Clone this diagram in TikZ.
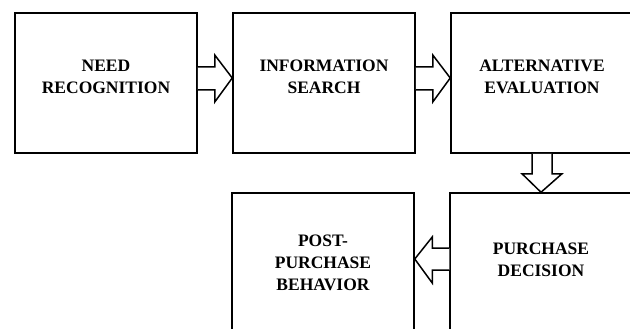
\documentclass[tikz,border=0pt]{standalone}
\usepackage{fontspec}
\setmainfont{Liberation Serif}
\usepackage{tikz}
\usetikzlibrary{calc}

\begin{document}
\begin{tikzpicture}[x=1pt, y=-1pt,
			stage/.style={draw, line width=1.5pt, minimum width=182pt, minimum height=140pt,
				align=center, font=\fontsize{17.5}{22}\selectfont\bfseries},
			blk/.style={draw, line width=1.5pt, line join=miter, fill=white}
			]
			\useasboundingbox (0,0) rectangle (630,329);
			\clip (0,0) rectangle (630,329);
			\node[stage, text depth=12pt] (need)  at (106,83)  {NEED\\RECOGNITION};
			\node[stage, text depth=12pt] (info)  at (324,83)  {INFORMATION\\SEARCH};
			\node[stage, text depth=12pt] (alt)   at (542,83)  {ALTERNATIVE\\EVALUATION};
			\node[stage, text depth=6pt] (purch) at (541,263) {PURCHASE\\DECISION};
			\node[stage] (post)  at (323,263) {POST-\\PURCHASE\\BEHAVIOR};
			\draw[blk] ($(need.east)+(0,-16)$) -- ++(17,0) -- ++(0,-12) -- ($(info.west)+(0,-5)$)
				-- ($(need.east)+(17,19)$) -- ++(0,-12) -- ++(-17,0);
			\draw[blk] ($(info.east)+(0,-16)$) -- ++(17,0) -- ++(0,-12) -- ($(alt.west)+(0,-5)$)
				-- ($(info.east)+(17,19)$) -- ++(0,-12) -- ++(-17,0);
			\draw[blk] ($(alt.south)+(-10,0)$) -- ++(0,20) -- ++(-10,0) -- ($(purch.north)+(0,0)$)
				-- ($(alt.south)+(20,20)$) -- ++(-10,0) -- ++(0,-20);
			\draw[blk] ($(purch.west)+(0,-15)$) -- ++(-17,0) -- ++(0,-11) -- ($(post.east)+(0,-4)$)
				-- ($(purch.west)+(-17,20)$) -- ++(0,-13) -- ++(17,0);
	\end{tikzpicture}
\end{document}
